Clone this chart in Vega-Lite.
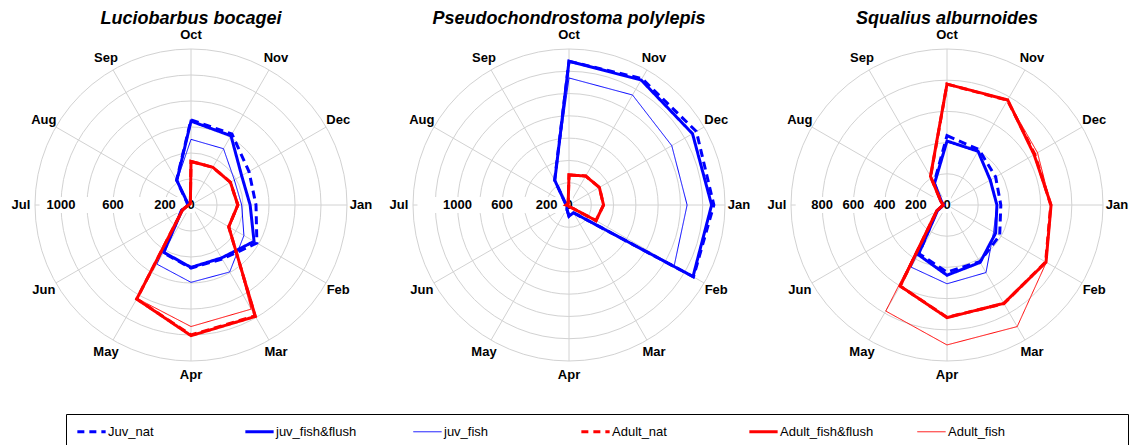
{
  "$schema": "https://vega.github.io/schema/vega-lite/v6.json",
  "padding": {"left": 2, "top": 10, "right": 0, "bottom": 0},
  "spacing": 0,
  "datasets": {
    "vals": [
      {"sp": "Luciobarbus bocagei", "s": "Juv_nat", "Oct": 655, "Nov": 630, "Dec": 515, "Jan": 500, "Feb": 585, "Mar": 480, "Apr": 485, "May": 425, "Jun": 85, "Jul": 25, "Aug": 35, "Sep": 222},
      {"sp": "Luciobarbus bocagei", "s": "juv_fish&flush", "Oct": 645, "Nov": 615, "Dec": 450, "Jan": 455, "Feb": 560, "Mar": 470, "Apr": 480, "May": 420, "Jun": 80, "Jul": 20, "Aug": 30, "Sep": 218},
      {"sp": "Luciobarbus bocagei", "s": "juv_fish", "Oct": 505, "Nov": 500, "Dec": 385, "Jan": 390, "Feb": 470, "Mar": 595, "Apr": 595, "May": 525, "Jun": 90, "Jul": 20, "Aug": 30, "Sep": 215},
      {"sp": "Luciobarbus bocagei", "s": "Adult_nat", "Oct": 335, "Nov": 335, "Dec": 350, "Jan": 360, "Feb": 335, "Mar": 985, "Apr": 1000, "May": 835, "Jun": 75, "Jul": 20, "Aug": 10, "Sep": 10},
      {"sp": "Luciobarbus bocagei", "s": "Adult_fish&flush", "Oct": 335, "Nov": 335, "Dec": 350, "Jan": 360, "Feb": 335, "Mar": 990, "Apr": 1005, "May": 835, "Jun": 75, "Jul": 20, "Aug": 10, "Sep": 10},
      {"sp": "Luciobarbus bocagei", "s": "Adult_fish", "Oct": 335, "Nov": 335, "Dec": 355, "Jan": 368, "Feb": 342, "Mar": 925, "Apr": 935, "May": 830, "Jun": 75, "Jul": 20, "Aug": 10, "Sep": 10},
      {"sp": "Pseudochondrostoma polylepis", "s": "Juv_nat", "Oct": 1290, "Nov": 1310, "Dec": 1320, "Jan": 1300, "Feb": 1290, "Mar": 80, "Apr": 100, "May": 40, "Jun": 20, "Jul": 20, "Aug": 40, "Sep": 258},
      {"sp": "Pseudochondrostoma polylepis", "s": "juv_fish&flush", "Oct": 1290, "Nov": 1295, "Dec": 1280, "Jan": 1280, "Feb": 1285, "Mar": 80, "Apr": 100, "May": 40, "Jun": 20, "Jul": 20, "Aug": 40, "Sep": 255},
      {"sp": "Pseudochondrostoma polylepis", "s": "juv_fish", "Oct": 1140, "Nov": 1140, "Dec": 1065, "Jan": 1060, "Feb": 1090, "Mar": 80, "Apr": 100, "May": 40, "Jun": 20, "Jul": 20, "Aug": 40, "Sep": 255},
      {"sp": "Pseudochondrostoma polylepis", "s": "Adult_nat", "Oct": 270, "Nov": 300, "Dec": 315, "Jan": 310, "Feb": 280, "Mar": 20, "Apr": 15, "May": 10, "Jun": 10, "Jul": 25, "Aug": 15, "Sep": 15},
      {"sp": "Pseudochondrostoma polylepis", "s": "Adult_fish&flush", "Oct": 270, "Nov": 300, "Dec": 315, "Jan": 310, "Feb": 280, "Mar": 20, "Apr": 15, "May": 10, "Jun": 10, "Jul": 25, "Aug": 15, "Sep": 15},
      {"sp": "Pseudochondrostoma polylepis", "s": "Adult_fish", "Oct": 270, "Nov": 300, "Dec": 315, "Jan": 310, "Feb": 280, "Mar": 20, "Apr": 15, "May": 10, "Jun": 10, "Jul": 25, "Aug": 15, "Sep": 15},
      {"sp": "Squalius alburnoides", "s": "Juv_nat", "Oct": 445, "Nov": 410, "Dec": 360, "Jan": 345, "Feb": 390, "Mar": 420, "Apr": 430, "May": 360, "Jun": 75, "Jul": 25, "Aug": 45, "Sep": 165},
      {"sp": "Squalius alburnoides", "s": "juv_fish&flush", "Oct": 410, "Nov": 398, "Dec": 320, "Jan": 320, "Feb": 360, "Mar": 425, "Apr": 450, "May": 368, "Jun": 70, "Jul": 20, "Aug": 40, "Sep": 160},
      {"sp": "Squalius alburnoides", "s": "juv_fish", "Oct": 405, "Nov": 395, "Dec": 325, "Jan": 320, "Feb": 345, "Mar": 500, "Apr": 505, "May": 460, "Jun": 70, "Jul": 20, "Aug": 40, "Sep": 160},
      {"sp": "Squalius alburnoides", "s": "Adult_nat", "Oct": 775, "Nov": 775, "Dec": 650, "Jan": 665, "Feb": 730, "Mar": 730, "Apr": 720, "May": 600, "Jun": 75, "Jul": 25, "Aug": 45, "Sep": 210},
      {"sp": "Squalius alburnoides", "s": "Adult_fish&flush", "Oct": 775, "Nov": 778, "Dec": 645, "Jan": 667, "Feb": 733, "Mar": 728, "Apr": 722, "May": 600, "Jun": 77, "Jul": 25, "Aug": 45, "Sep": 212},
      {"sp": "Squalius alburnoides", "s": "Adult_fish", "Oct": 775, "Nov": 775, "Dec": 670, "Jan": 665, "Feb": 735, "Mar": 900, "Apr": 897, "May": 785, "Jun": 75, "Jul": 25, "Aug": 45, "Sep": 210}
    ],
    "months": [
      {"m": "Oct", "i": 0}, {"m": "Nov", "i": 1}, {"m": "Dec", "i": 2}, {"m": "Jan", "i": 3},
      {"m": "Feb", "i": 4}, {"m": "Mar", "i": 5}, {"m": "Apr", "i": 6}, {"m": "May", "i": 7},
      {"m": "Jun", "i": 8}, {"m": "Jul", "i": 9}, {"m": "Aug", "i": 10}, {"m": "Sep", "i": 11}
    ],
    "rings": [
      {"sp": "Luciobarbus bocagei", "r": 200}, {"sp": "Luciobarbus bocagei", "r": 400}, {"sp": "Luciobarbus bocagei", "r": 600},
      {"sp": "Luciobarbus bocagei", "r": 800}, {"sp": "Luciobarbus bocagei", "r": 1000}, {"sp": "Luciobarbus bocagei", "r": 1200},
      {"sp": "Pseudochondrostoma polylepis", "r": 200}, {"sp": "Pseudochondrostoma polylepis", "r": 400}, {"sp": "Pseudochondrostoma polylepis", "r": 600},
      {"sp": "Pseudochondrostoma polylepis", "r": 800}, {"sp": "Pseudochondrostoma polylepis", "r": 1000}, {"sp": "Pseudochondrostoma polylepis", "r": 1200},
      {"sp": "Pseudochondrostoma polylepis", "r": 1400},
      {"sp": "Squalius alburnoides", "r": 200}, {"sp": "Squalius alburnoides", "r": 400}, {"sp": "Squalius alburnoides", "r": 600},
      {"sp": "Squalius alburnoides", "r": 800}, {"sp": "Squalius alburnoides", "r": 1000}
    ],
    "rlabels": [
      {"sp": "Luciobarbus bocagei", "r": 0}, {"sp": "Luciobarbus bocagei", "r": 200}, {"sp": "Luciobarbus bocagei", "r": 600}, {"sp": "Luciobarbus bocagei", "r": 1000},
      {"sp": "Pseudochondrostoma polylepis", "r": 0}, {"sp": "Pseudochondrostoma polylepis", "r": 200}, {"sp": "Pseudochondrostoma polylepis", "r": 600}, {"sp": "Pseudochondrostoma polylepis", "r": 1000},
      {"sp": "Squalius alburnoides", "r": 0}, {"sp": "Squalius alburnoides", "r": 200}, {"sp": "Squalius alburnoides", "r": 400}, {"sp": "Squalius alburnoides", "r": 600}, {"sp": "Squalius alburnoides", "r": 800}
    ]
  },
  "hconcat": [
    {
      "width": 378, "height": 340,
      "title": "Luciobarbus bocagei",
      "layer": [
        {"data": {"name": "rings"}, "transform": [{"filter": "datum.sp == 'Luciobarbus bocagei'"}, {"calculate": "0", "as": "c"}],
         "mark": {"type": "point", "shape": "circle", "filled": false, "color": "#d2d2d2", "strokeWidth": 1, "opacity": 1},
         "encoding": {
           "x": {"field": "c", "type": "quantitative", "scale": {"domain": [-1453.8, 1453.8], "nice": false, "zero": false}, "axis": null},
           "y": {"field": "c", "type": "quantitative", "scale": {"domain": [-1307.7, 1307.7], "nice": false, "zero": false}, "axis": null},
           "size": {"field": "r", "type": "quantitative", "legend": null, "scale": {"type": "pow", "exponent": 2, "domain": [0, 1200], "range": [0, 97344], "zero": true, "nice": false}}}},
        {"data": {"name": "months"}, "transform": [{"calculate": "0", "as": "c"}, {"calculate": "1200*sin(datum.i*PI/6)", "as": "ex"}, {"calculate": "1200*cos(datum.i*PI/6)", "as": "ey"}],
         "mark": {"type": "rule", "color": "#d2d2d2", "strokeWidth": 1},
         "encoding": {
           "x": {"field": "c", "type": "quantitative"},
           "y": {"field": "c", "type": "quantitative"},
           "x2": {"field": "ex"}, "y2": {"field": "ey"}}},
        {"data": {"name": "months"}, "transform": [{"filter": "datum.i == 9"}, {"calculate": "-1165", "as": "bx1"}, {"calculate": "30", "as": "bx2"}, {"calculate": "-62", "as": "by1"}, {"calculate": "62", "as": "by2"}],
         "mark": {"type": "rect", "color": "white"},
         "encoding": {
           "x": {"field": "bx1", "type": "quantitative"}, "x2": {"field": "bx2"},
           "y": {"field": "by1", "type": "quantitative"}, "y2": {"field": "by2"}}},
        {"data": {"name": "rlabels"}, "transform": [{"filter": "datum.sp == 'Luciobarbus bocagei'"}, {"calculate": "-datum.r", "as": "lx"}, {"calculate": "0", "as": "ly"}],
         "mark": {"type": "text", "font": "Liberation Sans", "fontSize": 13, "fontWeight": "bold", "align": "center", "baseline": "middle", "color": "black"},
         "encoding": {"x": {"field": "lx", "type": "quantitative"}, "y": {"field": "ly", "type": "quantitative"}, "text": {"field": "r", "type": "nominal"}}},
        {"data": {"name": "months"}, "transform": [{"calculate": "1307.7*sin(datum.i*PI/6)", "as": "lx"}, {"calculate": "1307.7*cos(datum.i*PI/6)", "as": "ly"}],
         "mark": {"type": "text", "font": "Liberation Sans", "fontSize": 13, "fontWeight": "bold", "align": "center", "baseline": "middle", "color": "black"},
         "encoding": {"x": {"field": "lx", "type": "quantitative"}, "y": {"field": "ly", "type": "quantitative"}, "text": {"field": "m", "type": "nominal"}}},
        {"data": {"name": "vals"}, "transform": [
           {"filter": "datum.sp == 'Luciobarbus bocagei'"},
           {"fold": ["Oct", "Nov", "Dec", "Jan", "Feb", "Mar", "Apr", "May", "Jun", "Jul", "Aug", "Sep"], "as": ["m", "v"]},
           {"lookup": "m", "from": {"data": {"name": "months"}, "key": "m", "fields": ["i"]}},
           {"calculate": "datum.v*sin(datum.i*PI/6)", "as": "px"},
           {"calculate": "datum.v*cos(datum.i*PI/6)", "as": "py"}],
         "mark": {"type": "line", "interpolate": "linear-closed"},
         "encoding": {
           "x": {"field": "px", "type": "quantitative"},
           "y": {"field": "py", "type": "quantitative"},
           "order": {"field": "i", "type": "quantitative"},
           "color": {"field": "s", "type": "nominal", "scale": {"domain": ["Juv_nat", "juv_fish&flush", "juv_fish", "Adult_nat", "Adult_fish&flush", "Adult_fish"], "range": ["#0000ff", "#0000ff", "#0000ff", "#ff0000", "#ff0000", "#ff0000"]},
             "legend": {"title": "\u00a0", "titleOrient": "right", "titlePadding": 112, "orient": "none", "legendX": 64, "legendY": 379, "direction": "horizontal", "columns": 6,
               "encode": {
                 "symbols": {"update": {
                 "strokeWidth": {"signal": "(datum.value == 'juv_fish' || datum.value == 'Adult_fish') ? 1 : 3"},
                 "strokeDash": {"signal": "(datum.value == 'Juv_nat' || datum.value == 'Adult_nat') ? [7, 5] : [1, 0]"}}}}}},
           "strokeWidth": {"condition": {"test": "datum.s == 'juv_fish' || datum.s == 'Adult_fish'", "value": 1}, "value": 3},
           "strokeDash": {"condition": {"test": "datum.s == 'Juv_nat' || datum.s == 'Adult_nat'", "value": [8, 5]}, "value": [1, 0]}}}
      ]
    },
    {
      "width": 378, "height": 340,
      "title": "Pseudochondrostoma polylepis",
      "layer": [
        {"data": {"name": "rings"}, "transform": [{"filter": "datum.sp == 'Pseudochondrostoma polylepis'"}, {"calculate": "0", "as": "c"}],
         "mark": {"type": "point", "shape": "circle", "filled": false, "color": "#d2d2d2", "strokeWidth": 1, "opacity": 1},
         "encoding": {
           "x": {"field": "c", "type": "quantitative", "scale": {"domain": [-1696.2, 1696.2], "nice": false, "zero": false}, "axis": null},
           "y": {"field": "c", "type": "quantitative", "scale": {"domain": [-1525.6, 1525.6], "nice": false, "zero": false}, "axis": null},
           "size": {"field": "r", "type": "quantitative", "legend": null, "scale": {"type": "pow", "exponent": 2, "domain": [0, 1400], "range": [0, 97344], "zero": true, "nice": false}}}},
        {"data": {"name": "months"}, "transform": [{"calculate": "0", "as": "c"}, {"calculate": "1400*sin(datum.i*PI/6)", "as": "ex"}, {"calculate": "1400*cos(datum.i*PI/6)", "as": "ey"}],
         "mark": {"type": "rule", "color": "#d2d2d2", "strokeWidth": 1},
         "encoding": {
           "x": {"field": "c", "type": "quantitative"},
           "y": {"field": "c", "type": "quantitative"},
           "x2": {"field": "ex"}, "y2": {"field": "ey"}}},
        {"data": {"name": "months"}, "transform": [{"filter": "datum.i == 9"}, {"calculate": "-1360", "as": "bx1"}, {"calculate": "35", "as": "bx2"}, {"calculate": "-72", "as": "by1"}, {"calculate": "72", "as": "by2"}],
         "mark": {"type": "rect", "color": "white"},
         "encoding": {
           "x": {"field": "bx1", "type": "quantitative"}, "x2": {"field": "bx2"},
           "y": {"field": "by1", "type": "quantitative"}, "y2": {"field": "by2"}}},
        {"data": {"name": "rlabels"}, "transform": [{"filter": "datum.sp == 'Pseudochondrostoma polylepis'"}, {"calculate": "-datum.r", "as": "lx"}, {"calculate": "0", "as": "ly"}],
         "mark": {"type": "text", "font": "Liberation Sans", "fontSize": 13, "fontWeight": "bold", "align": "center", "baseline": "middle", "color": "black"},
         "encoding": {"x": {"field": "lx", "type": "quantitative"}, "y": {"field": "ly", "type": "quantitative"}, "text": {"field": "r", "type": "nominal"}}},
        {"data": {"name": "months"}, "transform": [{"calculate": "1525.6*sin(datum.i*PI/6)", "as": "lx"}, {"calculate": "1525.6*cos(datum.i*PI/6)", "as": "ly"}],
         "mark": {"type": "text", "font": "Liberation Sans", "fontSize": 13, "fontWeight": "bold", "align": "center", "baseline": "middle", "color": "black"},
         "encoding": {"x": {"field": "lx", "type": "quantitative"}, "y": {"field": "ly", "type": "quantitative"}, "text": {"field": "m", "type": "nominal"}}},
        {"data": {"name": "vals"}, "transform": [
           {"filter": "datum.sp == 'Pseudochondrostoma polylepis'"},
           {"fold": ["Oct", "Nov", "Dec", "Jan", "Feb", "Mar", "Apr", "May", "Jun", "Jul", "Aug", "Sep"], "as": ["m", "v"]},
           {"lookup": "m", "from": {"data": {"name": "months"}, "key": "m", "fields": ["i"]}},
           {"calculate": "datum.v*sin(datum.i*PI/6)", "as": "px"},
           {"calculate": "datum.v*cos(datum.i*PI/6)", "as": "py"}],
         "mark": {"type": "line", "interpolate": "linear-closed"},
         "encoding": {
           "x": {"field": "px", "type": "quantitative"},
           "y": {"field": "py", "type": "quantitative"},
           "order": {"field": "i", "type": "quantitative"},
           "color": {"field": "s", "type": "nominal", "scale": {"domain": ["Juv_nat", "juv_fish&flush", "juv_fish", "Adult_nat", "Adult_fish&flush", "Adult_fish"], "range": ["#0000ff", "#0000ff", "#0000ff", "#ff0000", "#ff0000", "#ff0000"]}},
           "strokeWidth": {"condition": {"test": "datum.s == 'juv_fish' || datum.s == 'Adult_fish'", "value": 1}, "value": 3},
           "strokeDash": {"condition": {"test": "datum.s == 'Juv_nat' || datum.s == 'Adult_nat'", "value": [8, 5]}, "value": [1, 0]}}}
      ]
    },
    {
      "width": 378, "height": 340,
      "title": "Squalius alburnoides",
      "layer": [
        {"data": {"name": "rings"}, "transform": [{"filter": "datum.sp == 'Squalius alburnoides'"}, {"calculate": "0", "as": "c"}],
         "mark": {"type": "point", "shape": "circle", "filled": false, "color": "#d2d2d2", "strokeWidth": 1, "opacity": 1},
         "encoding": {
           "x": {"field": "c", "type": "quantitative", "scale": {"domain": [-1211.5, 1211.5], "nice": false, "zero": false}, "axis": null},
           "y": {"field": "c", "type": "quantitative", "scale": {"domain": [-1089.7, 1089.7], "nice": false, "zero": false}, "axis": null},
           "size": {"field": "r", "type": "quantitative", "legend": null, "scale": {"type": "pow", "exponent": 2, "domain": [0, 1000], "range": [0, 97344], "zero": true, "nice": false}}}},
        {"data": {"name": "months"}, "transform": [{"calculate": "0", "as": "c"}, {"calculate": "1000*sin(datum.i*PI/6)", "as": "ex"}, {"calculate": "1000*cos(datum.i*PI/6)", "as": "ey"}],
         "mark": {"type": "rule", "color": "#d2d2d2", "strokeWidth": 1},
         "encoding": {
           "x": {"field": "c", "type": "quantitative"},
           "y": {"field": "c", "type": "quantitative"},
           "x2": {"field": "ex"}, "y2": {"field": "ey"}}},
        {"data": {"name": "months"}, "transform": [{"filter": "datum.i == 9"}, {"calculate": "-970", "as": "bx1"}, {"calculate": "25", "as": "bx2"}, {"calculate": "-52", "as": "by1"}, {"calculate": "52", "as": "by2"}],
         "mark": {"type": "rect", "color": "white"},
         "encoding": {
           "x": {"field": "bx1", "type": "quantitative"}, "x2": {"field": "bx2"},
           "y": {"field": "by1", "type": "quantitative"}, "y2": {"field": "by2"}}},
        {"data": {"name": "rlabels"}, "transform": [{"filter": "datum.sp == 'Squalius alburnoides'"}, {"calculate": "-datum.r", "as": "lx"}, {"calculate": "0", "as": "ly"}],
         "mark": {"type": "text", "font": "Liberation Sans", "fontSize": 13, "fontWeight": "bold", "align": "center", "baseline": "middle", "color": "black"},
         "encoding": {"x": {"field": "lx", "type": "quantitative"}, "y": {"field": "ly", "type": "quantitative"}, "text": {"field": "r", "type": "nominal"}}},
        {"data": {"name": "months"}, "transform": [{"calculate": "1089.7*sin(datum.i*PI/6)", "as": "lx"}, {"calculate": "1089.7*cos(datum.i*PI/6)", "as": "ly"}],
         "mark": {"type": "text", "font": "Liberation Sans", "fontSize": 13, "fontWeight": "bold", "align": "center", "baseline": "middle", "color": "black"},
         "encoding": {"x": {"field": "lx", "type": "quantitative"}, "y": {"field": "ly", "type": "quantitative"}, "text": {"field": "m", "type": "nominal"}}},
        {"data": {"name": "vals"}, "transform": [
           {"filter": "datum.sp == 'Squalius alburnoides'"},
           {"fold": ["Oct", "Nov", "Dec", "Jan", "Feb", "Mar", "Apr", "May", "Jun", "Jul", "Aug", "Sep"], "as": ["m", "v"]},
           {"lookup": "m", "from": {"data": {"name": "months"}, "key": "m", "fields": ["i"]}},
           {"calculate": "datum.v*sin(datum.i*PI/6)", "as": "px"},
           {"calculate": "datum.v*cos(datum.i*PI/6)", "as": "py"}],
         "mark": {"type": "line", "interpolate": "linear-closed"},
         "encoding": {
           "x": {"field": "px", "type": "quantitative"},
           "y": {"field": "py", "type": "quantitative"},
           "order": {"field": "i", "type": "quantitative"},
           "color": {"field": "s", "type": "nominal", "scale": {"domain": ["Juv_nat", "juv_fish&flush", "juv_fish", "Adult_nat", "Adult_fish&flush", "Adult_fish"], "range": ["#0000ff", "#0000ff", "#0000ff", "#ff0000", "#ff0000", "#ff0000"]}},
           "strokeWidth": {"condition": {"test": "datum.s == 'juv_fish' || datum.s == 'Adult_fish'", "value": 1}, "value": 3},
           "strokeDash": {"condition": {"test": "datum.s == 'Juv_nat' || datum.s == 'Adult_nat'", "value": [8, 5]}, "value": [1, 0]}}}
      ]
    }
  ],
  "resolve": {"scale": {"color": "shared", "size": "independent"}, "legend": {"color": "shared"}},
  "config": {
    "view": {"stroke": null},
    "title": {"font": "Liberation Sans", "fontSize": 18, "fontStyle": "italic", "fontWeight": "bold", "color": "black", "offset": 1},
    "legend": {
      "gridAlign": "all", "columnPadding": 37,
      "symbolType": "stroke", "symbolSize": 800, "symbolOffset": 8,
      "labelFont": "Liberation Sans", "labelFontSize": 13, "labelColor": "black", "labelOffset": 10, "labelLimit": 200,
      "strokeColor": "black", "padding": 11, "fillColor": "white"
    }
  }
}
